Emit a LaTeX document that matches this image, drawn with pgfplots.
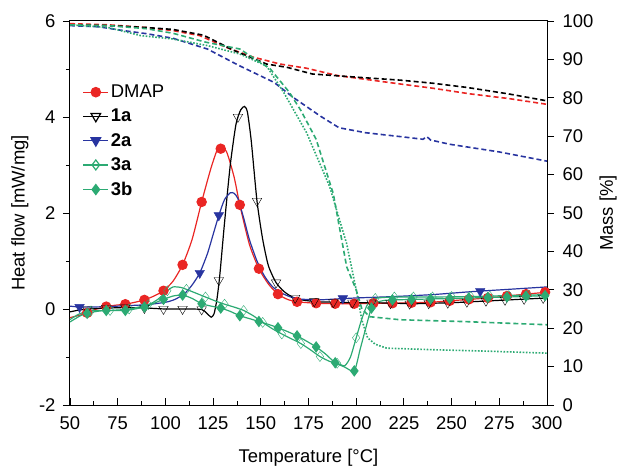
\documentclass[border=0pt]{standalone}
\usepackage{fontspec}
\setmainfont{Liberation Sans}
\usepackage{pgfplots}
\pgfplotsset{compat=1.18}

\definecolor{cDMAP}{RGB}{234,38,36}
\definecolor{cBlue}{RGB}{40,52,160}
\definecolor{cGreen}{RGB}{44,170,115}

\newcommand{\chartfont}{\fontsize{18.5}{22}\selectfont}

\begin{document}
\begin{tikzpicture}[font=\chartfont]
\useasboundingbox (-70bp,-67bp) rectangle (547bp,405bp);

% ---- mass axis (TGA, right) ----
\begin{axis}[
    at={(0,0)}, anchor=south west,
    scale only axis, width=477bp, height=384bp,
    xmin=50, xmax=300, ymin=0, ymax=100,
    axis x line=none, axis y line*=right,
    ytick={0,10,...,100},
    ytick align=outside, major tick length=7bp,
    tick style={black, line width=0.9bp},
    axis line style={line width=1bp},
    tick label style={font=\chartfont},
    yticklabel style={xshift=5bp},
    /pgf/number format/assume math mode=true,
    ylabel={Mass [\%]},
    ylabel style={at={(axis description cs:1.128,0.5)}, anchor=center, font=\chartfont},
    tga/.style={line width=1.6bp, dash pattern=on 5bp off 3bp},
    tgadot/.style={line width=1.6bp, dash pattern=on 1.6bp off 1.6bp},
]
% DMAP
\addplot[tga, cDMAP] coordinates {
(50,99.3) (70,99.0) (90,98.3) (104,97.5) (118,96.2) (132,93.1) (146,90.6)
(160,88.8) (174,87.7) (190,85.8) (205,84.8) (223,83.6) (240,82.5) (260,81.0)
(280,79.8) (300,78.3)};
% 1a
\addplot[tga, black] coordinates {
(50,99.0) (70,98.8) (90,98.3) (104,97.8) (120,96.3) (136,92.3) (153,88.8)
(164,87.9) (177,86.2) (191,85.7) (205,85.2) (223,84.6) (240,83.8) (258,82.7)
(280,81.0) (300,79.2)};
% 2a
\addplot[tga, cBlue] coordinates {
(50,98.8) (65,98.5) (78,97.5) (90,96.7) (104,95.5) (122,92.7) (139,88.3)
(157,84.0) (167,80.1) (181,75.3) (191,72.2) (205,70.9) (223,69.9) (235,69.2)
(237,69.9) (239,69.0) (249,67.9) (275,65.9) (300,63.5)};
% 3a
\addplot[tgadot, cGreen] coordinates {
(50,99.0) (70,98.3) (87,96.2) (104,95.3) (122,93.6) (139,91.4) (153,88.3)
(162,81.4) (174,70.9) (186,57.0) (195,42.0) (200,30.0) (203,22.0) (206,17.5)
(210,15.8) (216,14.8) (240,14.4) (270,14.0) (300,13.5)};
% 3b
\addplot[tga, cGreen] coordinates {
(50,99.0) (70,98.8) (90,98.0) (104,96.8) (121,94.5) (139,92.7) (155,87.5)
(165,81.4) (171,76.7) (179,69.2) (188,55.0) (195,36.0) (200,30.0) (203,25.0)
(207,23.0) (223,22.2) (258,21.7) (300,20.9)};
\end{axis}

% ---- heat flow axis (DSC, left) ----
\begin{axis}[
    at={(0,0)}, anchor=south west,
    scale only axis, width=477bp, height=384bp,
    xmin=50, xmax=300, ymin=-2, ymax=6,
    xtick={50,75,...,300}, ytick={-2,0,...,6},
    minor x tick num=1, minor y tick num=1,
    xtick pos=bottom, ytick pos=left,
    xtick align=inside, ytick align=outside,
    major tick length=7bp, minor tick length=4bp,
    tick style={black, line width=0.9bp},
    axis line style={line width=1bp},
    tick label style={font=\chartfont},
    xticklabel style={yshift=-8bp},
    yticklabel style={xshift=-4bp},
    /pgf/number format/assume math mode=true,
    xlabel={Temperature [°C]},
    ylabel={Heat flow [mW/mg]},
    xlabel style={at={(axis description cs:0.5,-0.138)}, anchor=center, font=\chartfont},
    ylabel style={at={(axis description cs:-0.105,0.5)}, anchor=center, font=\chartfont},
    legend style={at={(axis description cs:0.02,0.844)}, anchor=north west,
                  draw=none, fill=none, font=\chartfont, row sep=6bp},
    legend cell align=left,
    legend image code/.code={
        \draw[mark repeat=2,mark phase=2,#1] plot coordinates {(0bp,0bp) (12.5bp,0bp) (25bp,0bp)};},
    dsc/.style={line width=1.2bp, smooth, tension=0.4},
    mk/.style={only marks, mark options={solid, line width=1bp}},
]
% DMAP
\addplot[dsc, cDMAP, forget plot] coordinates {
(50,-0.18) (55,-0.13) (59,-0.08) (64,0.0) (69,0.05) (74,0.08) (79,0.10) (84,0.14)
(89,0.19) (94,0.27) (99,0.38) (104,0.58) (109,0.92) (114,1.45) (119,2.23)
(124,2.95) (128,3.38) (132,3.28) (136,2.75) (139,2.17) (144,1.35) (149,0.84)
(154,0.52) (159,0.31) (164,0.20) (169,0.15) (179,0.12) (189,0.11) (199,0.11)
(209,0.12) (219,0.12) (229,0.13) (239,0.14) (249,0.17) (259,0.20) (269,0.23)
(279,0.27) (289,0.31) (300,0.35)};
\addplot[mk, cDMAP, mark=*, mark size=4.7bp, forget plot] coordinates {
(59,-0.08) (69,0.05) (79,0.10) (89,0.19) (99,0.38) (109,0.92) (119,2.23)
(129,3.34) (139,2.17) (149,0.84) (159,0.31) (169,0.15) (179,0.12) (189,0.11)
(199,0.11) (209,0.12) (219,0.12) (229,0.13) (239,0.14) (249,0.17) (259,0.20)
(269,0.23) (279,0.27) (289,0.31) (299,0.35)};
% 1a
\addplot[dsc, black, forget plot] coordinates {
(50,-0.06) (55,-0.02) (60,0.0) (70,0.02) (80,0.03) (90,0.02) (100,0.0) (110,0.0)
(119,-0.01) (122,-0.10) (124,-0.17) (125.5,-0.10) (127,0.20) (128.5,0.70)
(131,1.80) (134,3.00) (137,3.85) (139.5,4.15) (141.5,4.22) (143,4.10) (145,3.50)
(148,2.25) (151,1.45) (154,0.90) (158,0.55) (162,0.37) (166,0.26) (170,0.20)
(175,0.17) (180,0.15) (190,0.14) (200,0.13) (210,0.13) (220,0.12) (230,0.11)
(240,0.12) (250,0.13) (260,0.15) (270,0.17) (280,0.19) (290,0.21) (300,0.23)};
\addplot[mk, black, mark=triangle, mark size=5.5bp,
    mark options={rotate=180, fill=white}, forget plot] coordinates {
(59,0.0) (69,0.02) (79,0.03) (89,0.02) (99,0.0) (109,0.0) (119,-0.01)
(128,0.60) (138,4.0) (148,2.25) (158,0.55) (168,0.23) (178,0.16) (188,0.14)
(198,0.13) (208,0.13) (218,0.12) (228,0.11) (238,0.12) (248,0.13) (258,0.15)
(268,0.17) (278,0.19) (288,0.21) (298,0.23)};
% 2a
\addplot[dsc, cBlue, forget plot] coordinates {
(50,0.06) (55,0.04) (60,0.04) (70,0.05) (80,0.07) (90,0.09) (100,0.14) (105,0.20)
(110,0.32) (114,0.50) (118,0.75) (122,1.15) (125,1.55) (128,1.95) (131,2.28)
(134,2.42) (136,2.41) (138,2.30) (141,1.90) (144,1.45) (148,1.00) (152,0.68)
(156,0.47) (160,0.35) (165,0.26) (170,0.21) (180,0.19) (190,0.21) (200,0.23)
(220,0.26) (240,0.30) (260,0.36) (280,0.41) (300,0.46)};
\addplot[mk, cBlue, mark=triangle*, mark size=5.5bp,
    mark options={rotate=180, fill=cBlue}, forget plot] coordinates {
(55,0.04) (118,0.75) (128,1.95) (193,0.22) (265,0.37)};
% 3a
\addplot[dsc, cGreen, forget plot] coordinates {
(50,-0.22) (55,-0.10) (61,-0.04) (71,-0.03) (81,0.0) (91,0.09) (96,0.20)
(101,0.38) (104,0.46) (108,0.45) (111,0.41) (116,0.33) (121,0.25) (126,0.17)
(131,0.10) (136,0.04) (141,-0.03) (146,-0.14) (151,-0.28) (156,-0.41) (161,-0.52)
(166,-0.62) (171,-0.72) (176,-0.85) (181,-0.99) (186,-1.09) (190,-1.13)
(194,-1.18) (197,-1.00) (200,-0.60) (203,-0.20) (206,0.10) (210,0.22) (220,0.25)
(240,0.25) (260,0.26) (280,0.28) (300,0.30)};
\addplot[mk, cGreen, mark=diamond, mark size=5bp,
    mark options={fill=white}, forget plot] coordinates {
(61,-0.04) (71,-0.03) (81,0.0) (91,0.09) (101,0.38) (111,0.41) (121,0.25)
(131,0.10) (141,-0.03) (151,-0.28) (161,-0.52) (171,-0.72) (181,-0.99)
(190,-1.13) (200,-0.60) (210,0.22) (220,0.25) (230,0.25) (240,0.25) (250,0.26)
(260,0.26) (270,0.27) (280,0.28) (290,0.29)};
% 3b
\addplot[dsc, cGreen, forget plot] coordinates {
(50,-0.27) (55,-0.15) (59,-0.09) (64,-0.05) (69,-0.03) (79,-0.03) (89,0.04)
(94,0.12) (99,0.20) (104,0.27) (109,0.29) (114,0.22) (119,0.11) (124,0.06)
(129,0.02) (134,-0.05) (139,-0.14) (144,-0.20) (149,-0.26) (154,-0.32)
(159,-0.39) (164,-0.47) (169,-0.56) (174,-0.67) (179,-0.79) (184,-0.94)
(189,-1.12) (194,-1.21) (199,-1.29) (202,-0.85) (205,-0.40) (208,0.02)
(211,0.14) (215,0.18) (220,0.19) (240,0.21) (260,0.23) (280,0.25) (300,0.28)};
\addplot[mk, cGreen, mark=diamond*, mark size=5bp, forget plot] coordinates {
(59,-0.09) (69,-0.03) (79,-0.03) (89,0.04) (99,0.20) (109,0.29) (119,0.11)
(129,0.02) (139,-0.14) (149,-0.26) (159,-0.39) (169,-0.56) (179,-0.79)
(189,-1.12) (199,-1.29) (208,0.02) (219,0.19) (229,0.20) (239,0.21) (249,0.22)
(259,0.23) (269,0.24) (279,0.25) (289,0.27) (299,0.28)};

\addlegendimage{cDMAP, line width=1.2bp, mark=*, mark size=4.7bp, mark options={solid}}
\addlegendentry{DMAP}
\addlegendimage{black, line width=1.2bp, mark=triangle, mark size=5.5bp, mark options={rotate=180, fill=white, solid}}
\addlegendentry{\textbf{1a}}
\addlegendimage{cBlue, line width=1.2bp, mark=triangle*, mark size=5.5bp, mark options={rotate=180, fill=cBlue, solid}}
\addlegendentry{\textbf{2a}}
\addlegendimage{cGreen, line width=1.2bp, mark=diamond, mark size=5bp, mark options={fill=white, solid}}
\addlegendentry{\textbf{3a}}
\addlegendimage{cGreen, line width=1.2bp, mark=diamond*, mark size=5bp, mark options={solid}}
\addlegendentry{\textbf{3b}}
\end{axis}
\end{tikzpicture}
\end{document}
